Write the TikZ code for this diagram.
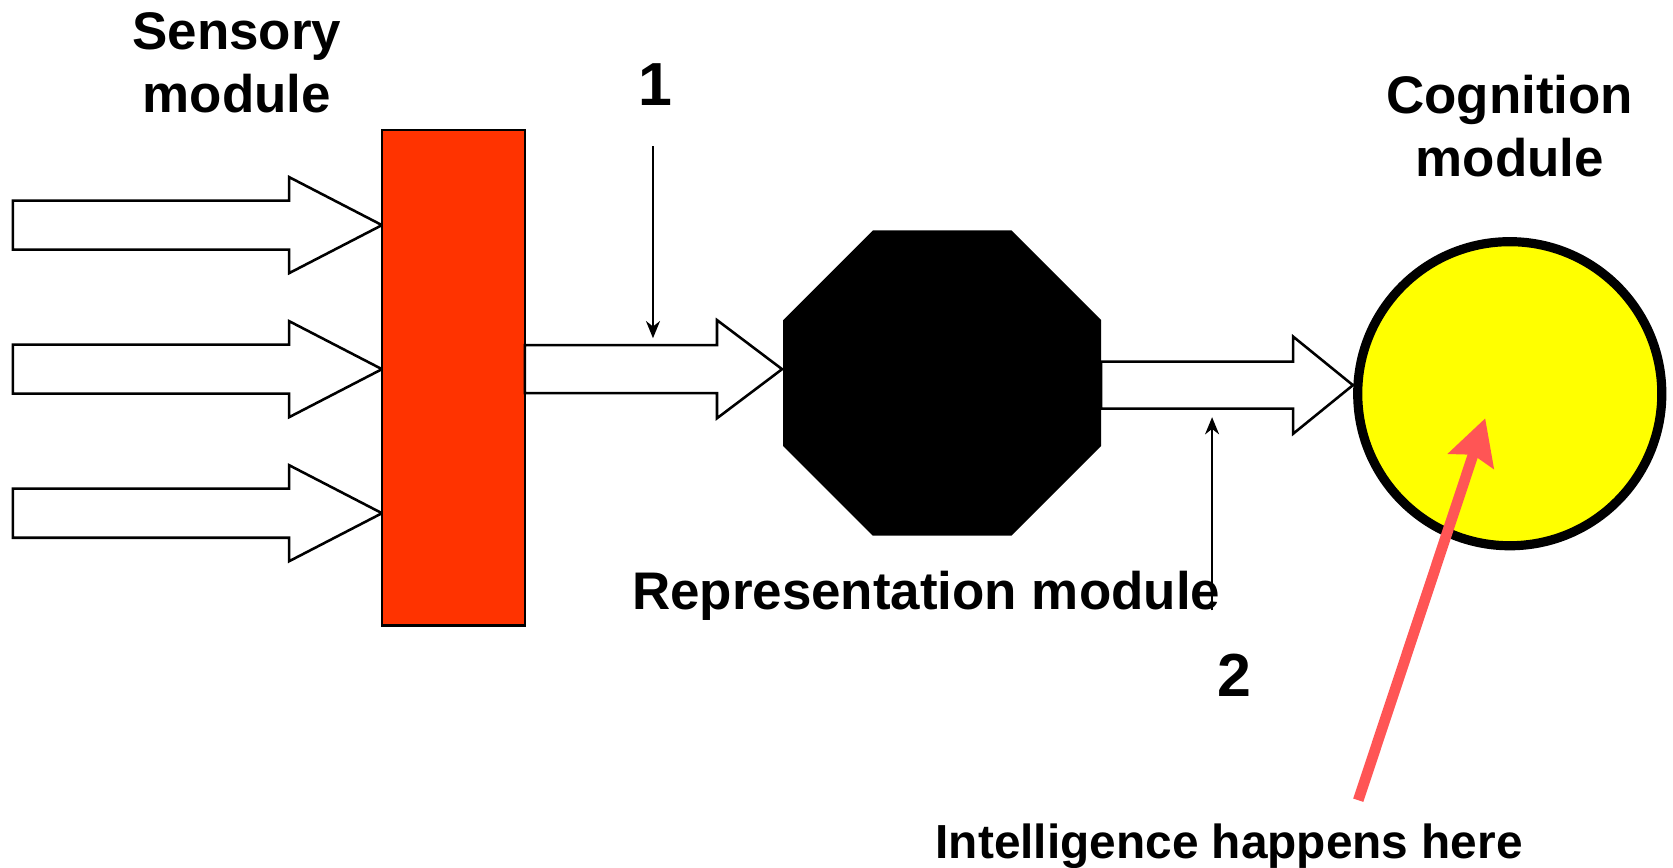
\documentclass[tikz,border=0pt]{standalone}
\usepackage{fontspec}
\setmainfont{Liberation Sans}
\usetikzlibrary{arrows.meta}
\definecolor{sensred}{HTML}{FF3300}
\definecolor{cogyellow}{HTML}{FFFF00}
\definecolor{pointred}{HTML}{FF5555}
\newcommand\blockarr[6]{%
  \draw[barrow] (#1,{#4-#5}) -- (#2,{#4-#5}) -- (#2,{#4-#6}) -- (#3,#4) -- (#2,{#4+#6}) -- (#2,{#4+#5}) -- (#1,{#4+#5}) -- cycle;}
\tikzset{
  barrow/.style={draw=black, fill=white, line width=1.2pt, line join=miter},
  lbl/.style={inner sep=0pt, anchor=base, font=\fontsize{24.8}{29}\selectfont\bfseries},
  numlbl/.style={inner sep=0pt, anchor=base, font=\fontsize{28.5}{33}\selectfont\bfseries},
  thinarrow/.style={line width=1.2pt, -{Stealth[length=8pt,width=6.5pt,inset=2.5pt]}},
}
\begin{document}
\begin{tikzpicture}[x=0.5pt,y=-0.5pt]
\useasboundingbox (0,0) rectangle (1568,813);
% input block arrows
\blockarr{12}{271}{358}{211}{23}{45}
\blockarr{12}{271}{358}{346}{23}{45}
\blockarr{12}{271}{358}{481}{23}{45}
% sensory module
\node[draw=black, fill=sensred, line width=1.2pt, minimum width=67pt, minimum height=232pt, inner sep=0pt] (sens) at (425,354) {};
% middle block arrow
\blockarr{492}{672}{733}{346}{22.5}{46}
% representation module (octagon)
\fill[black] (818,216) -- (948,216) -- (1032,300) -- (1032,418) -- (948,502) -- (818,502) -- (734,418) -- (734,300) -- cycle;
\coordinate (oct) at (883,359);
% right block arrow
\blockarr{1032}{1212}{1268}{361}{22}{45.5}
% cognition module
\node[circle, draw=black, fill=cogyellow, line width=4.3pt, minimum size=142.5pt, inner sep=0pt] (cog) at (1415,369) {};
% labels
\node[lbl] (sensA) at (222,46) {Sensory};
\node[lbl] (sensB) at (222,105) {module};
\node[lbl] (cogA) at (1415,106) {Cognition};
\node[lbl] (cogB) at (1415,165) {module};
\node[lbl] (repr) at (868,571) {Representation module};
\node[lbl, font=\fontsize{22.4}{27}\selectfont\bfseries] (intel) at (1152,805) {Intelligence happens here};
\node[numlbl] (one) at (614,99) {1};
\node[numlbl] (two) at (1157,653) {2};
% thin arrows
\coordinate (p1s) at (612,137);
\coordinate (p1e) at (612,317);
\draw[thinarrow] (p1s) -- (p1e);
\coordinate (p2s) at (1136,572);
\coordinate (p2e) at (1136,391);
\draw[thinarrow] (p2s) -- (p2e);
% red pointer arrow
\coordinate (rs) at (1273,750);
\coordinate (re) at (1392,392);
\draw[pointred, line width=5pt, -{Stealth[length=21pt,width=22pt,inset=3pt]}] (rs) -- (re);
\end{tikzpicture}
\end{document}
